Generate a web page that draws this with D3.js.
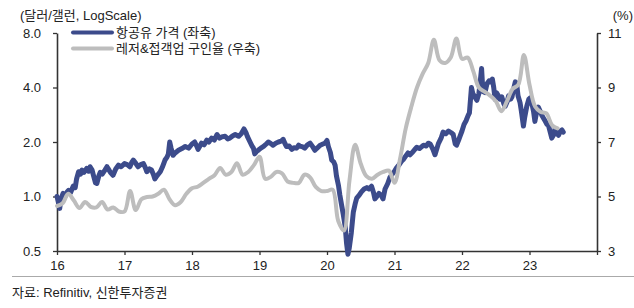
<!DOCTYPE html>
<html>
<head>
<meta charset="utf-8">
<script src="https://cdn.jsdelivr.net/npm/d3@7"></script>
<style>
  body { margin: 0; background: #fff; }
  svg { display: block; font-family: "Liberation Sans", Arial, "Noto Sans CJK KR", sans-serif; }
  .tick text { font-size: 13px; fill: #222; }
</style>
</head>
<body>
<div id="chart"></div>
<script>
// jet fuel price, $/gallon (left, log scale)
const fuelDates = [
  2016.00, 2016.02, 2016.04, 2016.06, 2016.09, 2016.12, 2016.15, 2016.17, 2016.20, 2016.24,
  2016.27, 2016.29, 2016.32, 2016.35, 2016.37, 2016.40, 2016.44, 2016.47, 2016.49, 2016.52,
  2016.54, 2016.57, 2016.59, 2016.62, 2016.64, 2016.67, 2016.71, 2016.74, 2016.76, 2016.79,
  2016.83, 2016.87, 2016.91, 2016.95, 2017.00, 2017.04, 2017.08, 2017.11, 2017.13, 2017.17,
  2017.20, 2017.24, 2017.28, 2017.31, 2017.33, 2017.37, 2017.40, 2017.43, 2017.45, 2017.48,
  2017.53, 2017.56, 2017.60, 2017.63, 2017.65, 2017.67, 2017.69, 2017.72, 2017.75, 2017.80,
  2017.85, 2017.90, 2017.95, 2018.00, 2018.04, 2018.07, 2018.09, 2018.14, 2018.18, 2018.22,
  2018.25, 2018.29, 2018.33, 2018.37, 2018.41, 2018.45, 2018.49, 2018.53, 2018.56, 2018.60,
  2018.64, 2018.69, 2018.73, 2018.77, 2018.80, 2018.82, 2018.86, 2018.89, 2018.91, 2018.93,
  2018.96, 2018.98, 2019.02, 2019.06, 2019.10, 2019.13, 2019.17, 2019.20, 2019.24, 2019.28,
  2019.32, 2019.35, 2019.38, 2019.40, 2019.44, 2019.48, 2019.51, 2019.55, 2019.58, 2019.60,
  2019.64, 2019.67, 2019.71, 2019.75, 2019.79, 2019.82, 2019.86, 2019.90, 2019.94, 2019.97,
  2020.00, 2020.02, 2020.05, 2020.07, 2020.10, 2020.12, 2020.14, 2020.17, 2020.19, 2020.22,
  2020.24, 2020.27, 2020.29, 2020.31, 2020.33, 2020.36, 2020.39, 2020.42, 2020.44, 2020.48,
  2020.51, 2020.55, 2020.59, 2020.62, 2020.66, 2020.69, 2020.71, 2020.74, 2020.77, 2020.80,
  2020.83, 2020.86, 2020.90, 2020.93, 2020.96, 2021.00, 2021.03, 2021.07, 2021.10, 2021.13,
  2021.16, 2021.20, 2021.23, 2021.27, 2021.30, 2021.33, 2021.37, 2021.40, 2021.43, 2021.47,
  2021.50, 2021.53, 2021.57, 2021.60, 2021.63, 2021.65, 2021.69, 2021.72, 2021.76, 2021.80,
  2021.84, 2021.87, 2021.90, 2021.92, 2021.95, 2021.97, 2022.00, 2022.03, 2022.06, 2022.09,
  2022.11, 2022.14, 2022.16, 2022.19, 2022.22, 2022.25, 2022.27, 2022.29, 2022.31, 2022.34,
  2022.37, 2022.40, 2022.42, 2022.45, 2022.47, 2022.49, 2022.51, 2022.54, 2022.56, 2022.59,
  2022.62, 2022.64, 2022.67, 2022.69, 2022.72, 2022.74, 2022.77, 2022.79, 2022.81, 2022.83,
  2022.86, 2022.88, 2022.91, 2022.93, 2022.96, 2022.99, 2023.01, 2023.04, 2023.06, 2023.08,
  2023.10, 2023.13, 2023.16, 2023.18, 2023.21, 2023.23, 2023.26, 2023.28, 2023.31, 2023.33,
  2023.36, 2023.38, 2023.41, 2023.43, 2023.46, 2023.48, 2023.50
];
const fuelPrice = [
  1.00, 0.93, 0.86, 0.97, 1.04, 1.00, 1.06, 1.08, 1.05, 1.14,
  1.12, 1.25, 1.37, 1.33, 1.40, 1.36, 1.43, 1.38, 1.46, 1.40,
  1.31, 1.19, 1.18, 1.30, 1.36, 1.33, 1.40, 1.46, 1.42, 1.36,
  1.31, 1.42, 1.49, 1.46, 1.52, 1.50, 1.46, 1.55, 1.59, 1.52,
  1.46, 1.50, 1.52, 1.44, 1.37, 1.42, 1.40, 1.32, 1.25, 1.30,
  1.37, 1.45, 1.59, 1.65, 1.72, 2.00, 1.85, 1.69, 1.74, 1.80,
  1.84, 1.89, 1.85, 1.95, 2.00, 1.90, 1.82, 1.97, 1.93, 2.05,
  2.00, 2.10, 2.05, 2.20, 2.10, 2.14, 2.15, 2.08, 2.10, 2.16,
  2.20, 2.15, 2.22, 2.36, 2.25, 2.15, 2.00, 1.90, 1.85, 1.72,
  1.78, 1.80, 1.85, 1.89, 1.95, 2.00, 1.96, 1.92, 1.97, 2.00,
  2.02, 2.07, 1.95, 1.89, 1.90, 1.82, 1.86, 1.85, 1.92, 1.90,
  1.88, 1.85, 1.93, 1.97, 1.88, 1.80, 1.86, 1.92, 1.95, 1.97,
  2.04, 1.89, 1.75, 1.59, 1.55, 1.49, 1.30, 1.15, 1.02, 0.88,
  0.80, 0.68, 0.55, 0.48, 0.52, 0.63, 0.82, 0.92, 0.98, 1.02,
  1.06, 1.10, 1.12, 1.10, 1.14, 1.05, 0.97, 1.00, 1.04, 1.02,
  0.97, 1.10, 1.18, 1.27, 1.32, 1.38, 1.44, 1.50, 1.56, 1.60,
  1.66, 1.74, 1.70, 1.76, 1.82, 1.87, 1.84, 1.88, 1.92, 1.90,
  1.97, 1.95, 1.82, 1.70, 1.85, 1.96, 2.10, 2.27, 2.22, 2.30,
  2.25, 2.20, 1.95, 1.92, 2.05, 2.15, 2.30, 2.50, 2.62, 2.80,
  2.90, 4.00, 3.70, 3.55, 3.40, 3.70, 4.30, 5.10, 3.80, 3.75,
  4.20, 4.35, 4.30, 4.45, 4.00, 3.45, 3.75, 3.60, 3.45, 3.55,
  3.25, 3.15, 3.35, 3.60, 3.45, 3.55, 4.00, 4.30, 4.20, 3.60,
  3.30, 2.95, 2.45, 2.75, 3.15, 3.45, 3.50, 3.20, 2.95, 2.60,
  2.85, 3.12, 2.95, 2.82, 2.70, 2.62, 2.50, 2.48, 2.25, 2.10,
  2.20, 2.38, 2.22, 2.18, 2.30, 2.33, 2.27
];

// leisure & hospitality job openings rate, % (right), monthly from Jan 2016
const openingsStart = 2016;
const openingsRate = [
  4.65, 4.75, 5.10, 4.85, 4.58, 4.80, 4.62, 4.60, 4.80, 4.52, 4.60, 4.45,
  4.45, 5.20, 4.50, 4.90, 4.98, 5.00, 5.10, 5.25, 4.90, 4.68, 4.80, 5.10,
  5.30, 5.36, 5.50, 5.65, 5.78, 6.05, 5.80, 5.90, 6.22, 5.80, 5.90, 6.15,
  6.46, 5.65, 5.72, 5.90, 5.85, 5.55, 5.50, 5.50, 5.80, 5.70, 5.35, 5.20,
  5.20, 5.25, 4.10, 3.75, 5.60, 6.90, 6.20, 5.75, 5.65, 5.80, 5.90, 5.95,
  5.50, 6.40, 7.50, 8.30, 9.00, 9.50, 9.90, 10.75, 10.00, 9.90, 10.10, 10.80,
  10.05, 10.10, 9.60, 9.00, 8.85, 8.70, 8.50, 8.13, 8.50, 8.95, 9.10, 10.19,
  9.10, 8.30, 8.10, 8.05, 7.62, 7.50
];

const yearTicks = [2016, 2017, 2018, 2019, 2020, 2021, 2022, 2023, 2024];
const leftTicks = [0.5, 1, 2, 4, 8];
const rightTicks = [3, 5, 7, 9, 11];
const legendLabels = ['항공유 가격 (좌축)', '레저&접객업 구인율 (우축)'];
const colors = ['#3c4b8b', '#bdbdbd'];

const width = 634;
const height = 308;
const margin = { top: 33, right: 37, bottom: 57, left: 57 };

const svg = d3.select('#chart').append('svg')
  .attr('width', width)
  .attr('height', height);

const x = d3.scaleLinear()
  .domain([2016, 2024])
  .range([margin.left, width - margin.right]);

const yLeft = d3.scaleLog()
  .base(2)
  .domain([0.5, 8])
  .range([height - margin.bottom, margin.top]);

const yRight = d3.scaleLinear()
  .domain([3, 11])
  .range([height - margin.bottom, margin.top]);

function styleAxis(g) {
  g.select('.domain').attr('stroke', '#333').attr('stroke-width', 1.6);
  g.selectAll('.tick line').attr('stroke', '#333').attr('stroke-width', 1.3);
  g.selectAll('.tick text').attr('font-family', '"Liberation Sans", Arial, sans-serif');
}

svg.append('g')
  .attr('transform', `translate(0,${height - margin.bottom})`)
  .call(d3.axisBottom(x).tickValues(yearTicks).tickSize(4).tickSizeOuter(0).tickPadding(6)
    .tickFormat(d => (d < 2024 ? String(d).slice(2) : '')))
  .call(styleAxis);

svg.append('g')
  .attr('transform', `translate(${margin.left},0)`)
  .call(d3.axisLeft(yLeft).tickValues(leftTicks).tickSize(4).tickSizeOuter(0).tickPadding(12)
    .tickFormat(d3.format('.1f')))
  .call(styleAxis);

svg.append('g')
  .attr('transform', `translate(${width - margin.right},0)`)
  .call(d3.axisRight(yRight).tickValues(rightTicks).tickSize(4).tickSizeOuter(0).tickPadding(7))
  .call(styleAxis);

const fuel = fuelDates.map((d, i) => [d, fuelPrice[i]]);
const openings = openingsRate.map((v, i) => [openingsStart + i / 12, v]);

svg.append('path')
  .datum(fuel)
  .attr('fill', 'none')
  .attr('stroke', colors[0])
  .attr('stroke-width', 5)
  .attr('stroke-linejoin', 'round')
  .attr('stroke-linecap', 'round')
  .attr('d', d3.line().x(d => x(d[0])).y(d => yLeft(d[1])));

svg.append('path')
  .datum(openings)
  .attr('fill', 'none')
  .attr('stroke', colors[1])
  .attr('stroke-width', 4)
  .attr('stroke-linejoin', 'round')
  .attr('stroke-linecap', 'round')
  .attr('d', d3.line().curve(d3.curveCatmullRom.alpha(0.5)).x(d => x(d[0])).y(d => yRight(d[1])));

const legend = svg.append('g').attr('transform', 'translate(73,32.5)');

legendLabels.forEach((label, i) => {
  const row = legend.append('g').attr('transform', `translate(0,${i * 16})`);

  row.append('line')
    .attr('x1', 0).attr('x2', 39)
    .attr('stroke', colors[i])
    .attr('stroke-width', 4)
    .attr('stroke-linecap', 'round');

  row.append('text')
    .attr('x', 43)
    .attr('dy', '0.35em')
    .attr('font-size', 13)
    .attr('fill', '#222')
    .text(label);
});

svg.append('text')
  .attr('x', 20).attr('y', 15).attr('dy', '0.35em')
  .attr('font-size', 13).attr('fill', '#222')
  .text('(달러/갤런, LogScale)');

svg.append('text')
  .attr('x', 633).attr('y', 15).attr('dy', '0.35em')
  .attr('text-anchor', 'end')
  .attr('font-size', 13).attr('fill', '#222')
  .text('(%)');

svg.append('line')
  .attr('x1', 12).attr('x2', width)
  .attr('y1', 276.5).attr('y2', 276.5)
  .attr('stroke', '#aaa')
  .attr('stroke-width', 1);

svg.append('text')
  .attr('x', 12).attr('y', 292).attr('dy', '0.35em')
  .attr('font-size', 13).attr('fill', '#222')
  .text('자료: Refinitiv, 신한투자증권');
</script>
</body>
</html>
